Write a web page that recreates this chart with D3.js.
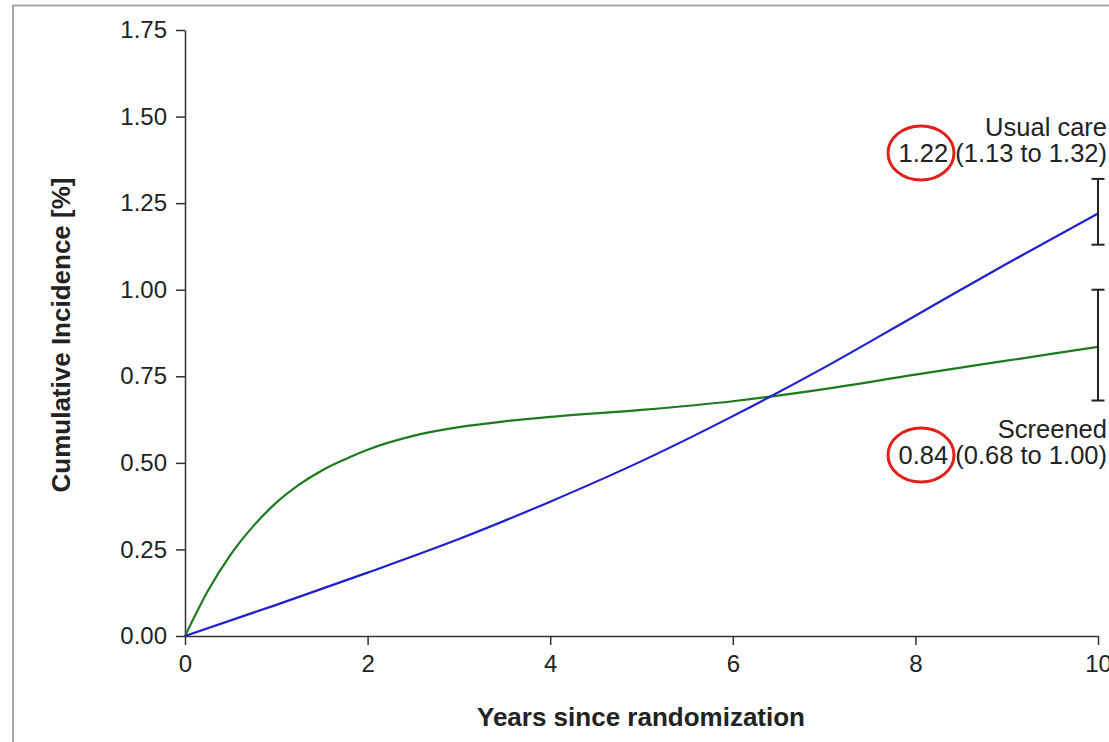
<html>
<head>
    <script type="text/javascript" src="https://d3js.org/d3.v7.min.js"></script>
    <meta charset="UTF-8">
    <style>
        body { margin: 0; background: #fff; }
        text { font-family: "Liberation Sans", Arial, sans-serif; fill: #222; }
    </style>
</head>
<body>
    <svg width="1109" height="742"></svg>
    <script>
        // values
        var usualYears = [0, 1, 2, 3, 4, 5, 6, 7, 8, 9, 10];
        var usualVals  = [0, 0.09, 0.183, 0.28, 0.388, 0.505, 0.635, 0.775, 0.925, 1.075, 1.22];

        var screenYears = [0, 0.25, 0.5, 0.75, 1, 1.25, 1.5, 1.75, 2, 2.5, 3, 3.5, 4, 5, 6, 7, 8, 9, 10];
        var screenVals  = [0, 0.13, 0.235, 0.318, 0.385, 0.437, 0.478, 0.51, 0.538, 0.578, 0.603, 0.62, 0.633, 0.653, 0.678, 0.713, 0.755, 0.795, 0.835];

        // 10-year estimate and 95% CI
        var groups = ["Usual care", "Screened"];
        var estimates = [1.22, 0.84];
        var ciLow = [1.13, 0.68];
        var ciHigh = [1.32, 1.00];

        var xTicks = [0, 2, 4, 6, 8, 10];
        var yTicks = [0, 0.25, 0.5, 0.75, 1.0, 1.25, 1.5, 1.75];

        var svg = d3.select("svg");

        // grey frame (top and left edge of the screenshot)
        svg.append("path")
            .attr("d", "M13,742 L13,5.5 L1109,5.5")
            .attr("fill", "none")
            .attr("stroke", "#a8a8a8")
            .attr("stroke-width", 2);

        var x = d3.scaleLinear().domain([0, 10]).range([185, 1098]);
        var y = d3.scaleLinear().domain([0, 1.75]).range([636, 30]);

        var xAxis = d3.axisBottom(x).tickValues(xTicks).tickSize(9).tickPadding(8)
            .tickFormat(d3.format("d")).tickSizeOuter(0);
        var yAxis = d3.axisLeft(y).tickValues(yTicks).tickSize(9).tickPadding(9)
            .tickFormat(d3.format(".2f")).tickSizeOuter(0);

        var gx = svg.append("g").attr("transform", "translate(0,636)").call(xAxis);
        var gy = svg.append("g").attr("transform", "translate(185,0)").call(yAxis);

        [gx, gy].forEach(function(g) {
            g.select(".domain").attr("stroke", "#333").attr("stroke-width", 1.5);
            g.selectAll(".tick line").attr("stroke", "#333").attr("stroke-width", 1.5);
            g.selectAll(".tick text").style("font-size", "24px").attr("fill", "#222")
                .style("font-family", "'Liberation Sans', Arial, sans-serif");
        });
        gx.selectAll(".tick text").attr("dy", "0.8em");

        // axis titles
        svg.append("text")
            .attr("x", 641).attr("y", 726)
            .attr("text-anchor", "middle")
            .style("font-size", "26px").style("font-weight", "bold")
            .text("Years since randomization");
        svg.append("text")
            .attr("transform", "translate(70,335) rotate(-90)")
            .attr("text-anchor", "middle")
            .style("font-size", "26px").style("font-weight", "bold")
            .text("Cumulative Incidence [%]");

        var line = d3.line()
            .x(function(d) { return x(d[0]); })
            .y(function(d) { return y(d[1]); })
            .curve(d3.curveMonotoneX);

        svg.append("path")
            .datum(d3.zip(screenYears, screenVals))
            .attr("d", line)
            .attr("fill", "none")
            .attr("stroke", "#1e7a1e")
            .attr("stroke-width", 2.2);

        svg.append("path")
            .datum(d3.zip(usualYears, usualVals))
            .attr("d", line)
            .attr("fill", "none")
            .attr("stroke", "#1f1fcf")
            .attr("stroke-width", 2.2);

        // error bars at 10 years
        var capW = 6.5;
        var eb = svg.selectAll(".eb").data(groups).enter().append("g");
        eb.append("line")
            .attr("x1", x(10)).attr("x2", x(10))
            .attr("y1", function(d, i) { return y(ciLow[i]); })
            .attr("y2", function(d, i) { return y(ciHigh[i]); });
        eb.append("line")
            .attr("x1", x(10) - capW).attr("x2", x(10) + capW)
            .attr("y1", function(d, i) { return y(ciHigh[i]); })
            .attr("y2", function(d, i) { return y(ciHigh[i]); });
        eb.append("line")
            .attr("x1", x(10) - capW).attr("x2", x(10) + capW)
            .attr("y1", function(d, i) { return y(ciLow[i]); })
            .attr("y2", function(d, i) { return y(ciLow[i]); });
        eb.selectAll("line").attr("stroke", "#222").attr("stroke-width", 2);

        // labels to the right
        var labelY = [136, 438];
        var fmt = d3.format(".2f");
        svg.selectAll(".grp").data(groups).enter().append("text")
            .attr("x", 1107).attr("y", function(d, i) { return labelY[i]; })
            .attr("text-anchor", "end")
            .style("font-size", "25.5px")
            .text(function(d) { return d; });
        svg.selectAll(".est").data(groups).enter().append("text")
            .attr("x", 1107).attr("y", function(d, i) { return labelY[i] + 26; })
            .attr("text-anchor", "end")
            .style("font-size", "25.5px")
            .text(function(d, i) {
                return fmt(estimates[i]) + " (" + fmt(ciLow[i]) + " to " + fmt(ciHigh[i]) + ")";
            });

        // red circles drawn around the point estimates
        svg.selectAll(".circ").data(groups).enter().append("ellipse")
            .attr("cx", 921)
            .attr("cy", function(d, i) { return labelY[i] + 17; })
            .attr("rx", 33).attr("ry", 27)
            .attr("fill", "none")
            .attr("stroke", "#e0201c")
            .attr("stroke-width", 3);
    </script>
</body>
</html>
